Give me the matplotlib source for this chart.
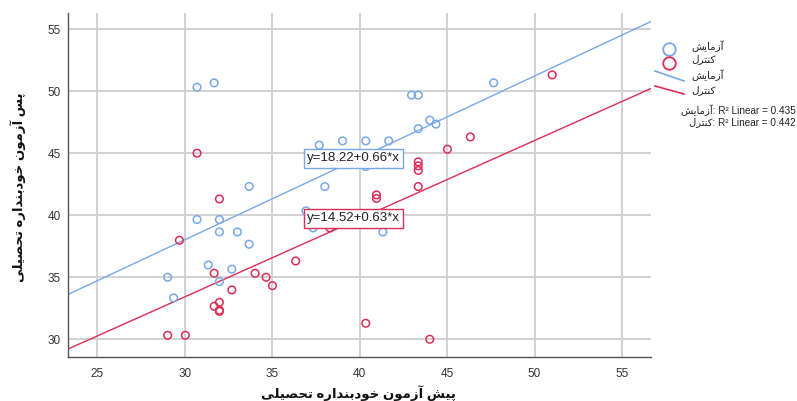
# plot.py
# Pre-test vs post-test scatter (experiment / control) with linear fit lines.

import matplotlib
matplotlib.use("Agg")
import matplotlib.pyplot as plt
from matplotlib.lines import Line2D

# --- data ---
exp_pre = [30.70, 31.68, 33.68, 38.01, 37.69, 39.02, 40.35, 41.66, 40.35, 30.70,
           31.98, 36.93, 31.98, 33.01, 33.68, 37.34, 41.33, 31.34, 32.69, 29.02,
           31.98, 29.36, 43.35, 44.01, 44.36, 42.97, 43.35, 47.66]
exp_post = [50.32, 50.67, 42.32, 42.31, 45.65, 45.99, 45.99, 45.99, 43.92, 39.65,
            39.65, 40.35, 38.65, 38.65, 37.66, 38.98, 38.65, 35.99, 35.65, 35.00,
            34.65, 33.33, 46.98, 47.66, 47.34, 49.68, 49.68, 50.67]

ctrl_pre = [30.70, 31.98, 40.96, 40.96, 38.30, 29.69, 36.34, 31.68, 34.02, 34.65,
            35.01, 32.69, 31.98, 31.68, 31.98, 31.98, 40.35, 29.02, 30.03, 44.01,
            51.01, 46.33, 45.02, 43.35, 43.35, 43.35, 43.35]
ctrl_post = [45.00, 41.31, 41.64, 41.35, 38.98, 37.98, 36.31, 35.32, 35.32, 35.00,
             34.32, 33.98, 32.98, 32.66, 32.34, 32.25, 31.29, 30.32, 30.32, 30.00,
             51.31, 46.31, 45.32, 44.30, 43.98, 43.61, 42.31]

exp_fit = (18.22, 0.66)    # intercept, slope
ctrl_fit = (14.52, 0.63)
exp_r2 = 0.435
ctrl_r2 = 0.442

x_ticks = [25, 30, 35, 40, 45, 50, 55]
y_ticks = [30, 35, 40, 45, 50, 55]
x_lim = (23.32, 56.66)
y_lim = (28.57, 56.3)

group_names = ["آزمایش", "کنترل"]
x_title = "پیش آزمون خودبنداره تحصیلی"
y_title = "پس آزمون خودبنداره تحصیلی"

BLUE = "#78a8ea"
RED = "#dc2d56"
LATIN = ["Liberation Sans", "DejaVu Sans"]

# matplotlib has no Arabic shaping, so map letters to their presentation forms
# (isolated, final, initial, medial) and reverse for left-to-right drawing.
FORMS = {
    "ا": ("\uFE8D", "\uFE8E", None, None),
    "آ": ("\uFE81", "\uFE82", None, None),
    "د": ("\uFEA9", "\uFEAA", None, None),
    "ر": ("\uFEAD", "\uFEAE", None, None),
    "ز": ("\uFEAF", "\uFEB0", None, None),
    "و": ("\uFEED", "\uFEEE", None, None),
    "ب": ("\uFE8F", "\uFE90", "\uFE91", "\uFE92"),
    "پ": ("\uFB56", "\uFB57", "\uFB58", "\uFB59"),
    "ت": ("\uFE95", "\uFE96", "\uFE97", "\uFE98"),
    "ح": ("\uFEA1", "\uFEA2", "\uFEA3", "\uFEA4"),
    "خ": ("\uFEA5", "\uFEA6", "\uFEA7", "\uFEA8"),
    "س": ("\uFEB1", "\uFEB2", "\uFEB3", "\uFEB4"),
    "ش": ("\uFEB5", "\uFEB6", "\uFEB7", "\uFEB8"),
    "ص": ("\uFEB9", "\uFEBA", "\uFEBB", "\uFEBC"),
    "ل": ("\uFEDD", "\uFEDE", "\uFEDF", "\uFEE0"),
    "م": ("\uFEE1", "\uFEE2", "\uFEE3", "\uFEE4"),
    "ن": ("\uFEE5", "\uFEE6", "\uFEE7", "\uFEE8"),
    "ه": ("\uFEE9", "\uFEEA", "\uFEEB", "\uFEEC"),
    "ی": ("\uFBFC", "\uFBFD", "\uFBFE", "\uFBFF"),
    "ک": ("\uFB8E", "\uFB8F", "\uFB90", "\uFB91"),
}


def fa(text):
    out = []
    for i, ch in enumerate(text):
        if ch not in FORMS:
            out.append(ch)
            continue
        prev = text[i - 1] if i > 0 else ""
        nxt = text[i + 1] if i + 1 < len(text) else ""
        iso, fin, ini, med = FORMS[ch]
        join_prev = prev in FORMS and FORMS[prev][2] is not None
        join_next = ini is not None and nxt in FORMS
        if join_prev and join_next:
            out.append(med)
        elif join_prev:
            out.append(fin)
        elif join_next:
            out.append(ini)
        else:
            out.append(iso)
    return "".join(reversed(out))


fig = plt.figure(figsize=(7.97, 4.01), dpi=100)
ax = fig.add_axes([0.0853, 0.1097, 0.7315, 0.8579])

ax.set_xlim(*x_lim)
ax.set_ylim(*y_lim)
ax.set_xticks(x_ticks)
ax.set_yticks(y_ticks)
ax.grid(True, color="#d2d2d2", linewidth=1.4, zorder=0)
ax.set_axisbelow(True)
for side in ("top", "right"):
    ax.spines[side].set_visible(False)
for side in ("left", "bottom"):
    ax.spines[side].set_color("#555555")
    ax.spines[side].set_linewidth(1.0)
ax.tick_params(length=0, labelsize=8.5, labelcolor="#333333")
ax.tick_params(axis="x", pad=8)
ax.tick_params(axis="y", pad=5)
for lab in ax.get_xticklabels() + ax.get_yticklabels():
    lab.set_family(LATIN)

# fit lines across the whole axis
xs = list(x_lim)
ax.plot(xs, [exp_fit[0] + exp_fit[1] * v for v in xs], color=BLUE, lw=1.0, zorder=2)
ax.plot(xs, [ctrl_fit[0] + ctrl_fit[1] * v for v in xs], color=RED, lw=1.0, zorder=2)

ax.scatter(exp_pre, exp_post, s=30, facecolors="none", edgecolors=BLUE,
           linewidths=1.1, zorder=3)
ax.scatter(ctrl_pre, ctrl_post, s=30, facecolors="none", edgecolors=RED,
           linewidths=1.1, zorder=3)

# equation boxes
ax.text(36.98, 44.58, f"y={exp_fit[0]:.2f}+{exp_fit[1]:.2f}*x", family=LATIN,
        fontsize=9.5, color="#222222", va="center", ha="left", zorder=4,
        bbox=dict(boxstyle="square,pad=0.25", fc="white", ec=BLUE, lw=1.0))
ax.text(36.98, 39.74, f"y={ctrl_fit[0]:.2f}+{ctrl_fit[1]:.2f}*x", family=LATIN,
        fontsize=9.5, color="#222222", va="center", ha="left", zorder=4,
        bbox=dict(boxstyle="square,pad=0.25", fc="white", ec=RED, lw=1.0))

# axis titles
fig.text(358 / 797, 1 - 393 / 401, fa(x_title), family=LATIN, fontsize=9.5,
         fontweight="bold", ha="center", va="center", color="#111111")
fig.text(18 / 797, 1 - 187 / 401, fa(y_title), family=LATIN, fontsize=9.5,
         fontweight="bold", ha="center", va="center", rotation=90, color="#111111")


# legend drawn by hand outside the axes (pixel positions of the reference)
def fx(px):
    return px / 797


def fy(py):
    return 1 - py / 401


for col, py, name in [(BLUE, 49, group_names[0]), (RED, 62.5, group_names[1])]:
    fig.add_artist(Line2D([fx(669)], [fy(py)], marker="o", ms=9, mfc="none",
                          mec=col, mew=1.3, transform=fig.transFigure))
    fig.text(fx(691), fy(py - 3), fa(name), family=LATIN, fontsize=7.5,
             ha="left", va="center", color="#222222")

for col, y0, y1, name in [(BLUE, 71, 81, group_names[0]), (RED, 86, 94, group_names[1])]:
    fig.add_artist(Line2D([fx(655), fx(684)], [fy(y0), fy(y1)], color=col, lw=1.2,
                          transform=fig.transFigure))
    fig.text(fx(691), fy(y0 + 4), fa(name), family=LATIN, fontsize=7.5,
             ha="left", va="center", color="#222222")

fig.text(fx(796), fy(110), fa(group_names[0]) + f": R² Linear = {exp_r2:.3f}",
         family=LATIN, fontsize=7.2, ha="right", va="center", color="#222222")
fig.text(fx(796), fy(122), fa(group_names[1]) + f": R² Linear = {ctrl_r2:.3f}",
         family=LATIN, fontsize=7.2, ha="right", va="center", color="#222222")

fig.savefig("out.png", dpi=100)
